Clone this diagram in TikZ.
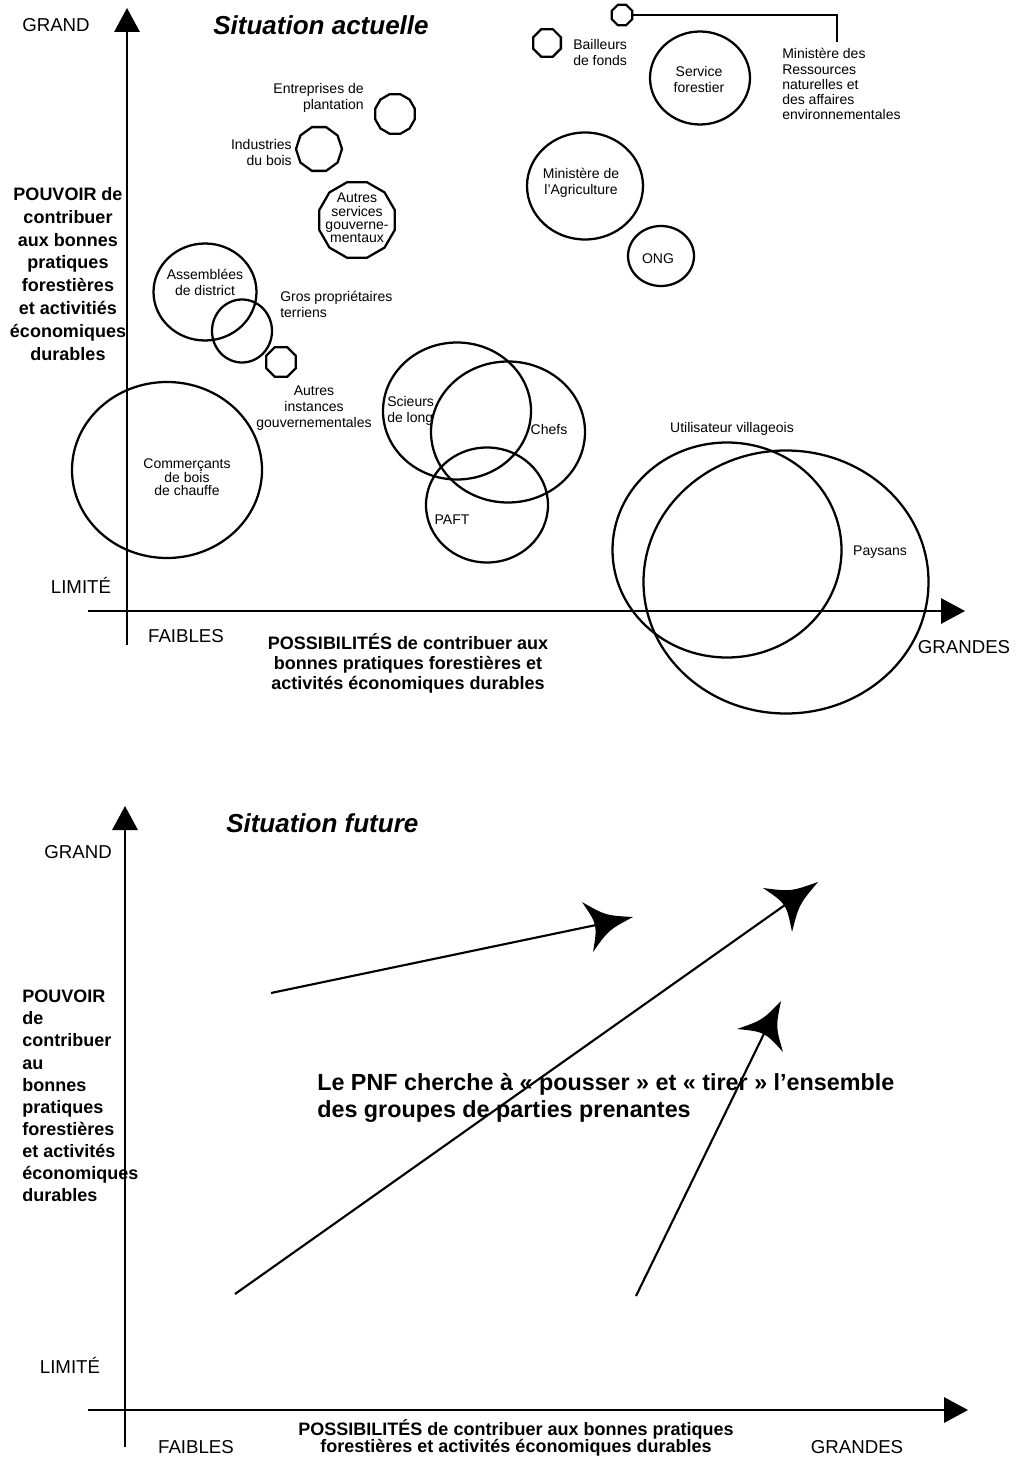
\documentclass[tikz,border=0pt]{standalone}
\usepackage{fontspec}
\setmainfont{Liberation Sans}
\usetikzlibrary{arrows.meta,shapes.geometric,calc}

% filled arrow head with slightly concave sides: tip, back corner, back corner
\newcommand\spikehead[3]{%
  \fill (#1) .. controls ($(#1)!0.5!(#2)!0.14!(#3)$) .. (#2)
             .. controls ($(#2)!0.5!(#3)!0.22!(#1)$) .. (#3)
             .. controls ($(#3)!0.5!(#1)!0.14!(#2)$) .. (#1) -- cycle;}

\begin{document}
\begin{tikzpicture}[x=0.75pt, y=-0.75pt,
  axis/.style={line width=1.6pt},
  axtip/.style={-{Triangle[length=18pt,width=19pt]}},
  ring/.style 2 args={ellipse, draw, line width=1.7pt,
    minimum width=#1*0.75pt, minimum height=#2*0.75pt, inner sep=0pt, outer sep=0pt},
  gon/.style 2 args={regular polygon, regular polygon sides=#1, draw, line width=1.7pt,
    minimum size=#2*0.75pt, inner sep=0pt, outer sep=0pt},
  lab/.style={font=\fontsize{10.5}{12}\selectfont, inner sep=0pt},
  axlab/.style={font=\fontsize{14}{17}\selectfont, inner sep=0pt},
  boldlab/.style={inner sep=0pt},
  ttl/.style={font=\fontsize{19.5}{24}\selectfont\bfseries\itshape, inner sep=0pt},
  push/.style={line width=1.6pt},
]
\useasboundingbox (0,0) rectangle (1022,1458);

% ---------------- Situation actuelle ----------------
\node[ttl] (title1) at (321,25) {Situation actuelle};
\node[axlab] (grand1) at (56,25) {GRAND};
\node[boldlab, align=center, font=\fontsize{13.5}{17.2}\selectfont\bfseries] (pouvoir1) at (68,274)
  {POUVOIR de\\contribuer\\aux bonnes\\pratiques\\forestières\\et activitiés\\économiques\\durables};
\node[axlab] (limite1) at (81,585) {LIMITÉ};
\node[axlab] (faibles1) at (186,636) {FAIBLES};
\node[boldlab, align=center, font=\fontsize{13.5}{15}\selectfont\bfseries] (poss1) at (408,663)
  {POSSIBILITÉS de contribuer aux\\bonnes pratiques forestières et\\activités économiques durables};
\node[axlab] (grandes1) at (964,647) {GRANDES};

% stakeholder groups
\node[gon={8}{22}] (minres-c) at (622,15) {};
\node[lab, anchor=west, align=left, font=\fontsize{10.5}{11.3}\selectfont] (minres) at (782,84)
  {Ministère des\\Ressources\\naturelles et\\des affaires\\environnementales};
\coordinate (minres-in) at (837,42);
\draw[line width=1.7pt] (minres-c.east) -| (minres-in);

\node[gon={8}{30}] (bailleurs-c) at (547,43) {};
\node[lab, anchor=west, align=left] (bailleurs) at (573,53) {Bailleurs\\de fonds};

\node[ring={100}{93}] (sf-c) at (700,78) {};
\node[lab, align=center] (sf) at (699,80) {Service\\forestier};

\node[ring={116}{107}] (minagri-c) at (585,186) {};
\node[lab, align=center] (minagri) at (581,183) {Ministère de\\l’Agriculture};

\node[ring={66}{60}] (ong-c) at (661,256) {};
\node[lab] (ong) at (658,259) {ONG};

\node[gon={12}{41}] (plant-c) at (395,114) {};
\node[lab, anchor=east, align=right] (plant) at (364,98) {Entreprises de\\plantation};

\node[gon={10}{46}] (indus-c) at (319,149) {};
\node[lab, anchor=east, align=right] (indus) at (292,153) {Industries\\du bois};

\node[gon={12}{78}] (asg-c) at (357,220) {};
\node[lab, align=center, font=\fontsize{10.5}{10}\selectfont] (asg) at (357,218)
  {Autres\\services\\gouverne-\\mentaux};

\node[ring={103}{97}] (assemb-c) at (205,292) {};
\node[lab, align=center] (assemb) at (205,282) {Assemblées\\de district};

\node[ring={60}{63}] (gros-c) at (242,331) {};
\node[lab, anchor=west, align=left] (gros) at (280,304) {Gros propriétaires\\terriens};

\node[gon={8}{32}] (aig-c) at (281,362) {};
\node[lab, align=center] (aig) at (314,408) {Autres\\instances\\gouvernementales};

\node[ring={190}{176}] (comm-c) at (167,470) {};
\node[lab, align=center, font=\fontsize{10.5}{9.4}\selectfont] (comm) at (187,477)
  {Commerçants\\de bois\\de chauffe};

\node[ring={148}{137}] (scieurs-c) at (457,411) {};
\node[lab, anchor=west, align=left] (scieurs) at (387,411) {Scieurs\\de long};

\node[ring={154}{141}] (chefs-c) at (508,432) {};
\node[lab] (chefs) at (549,429) {Chefs};

\node[ring={122}{115}] (paft-c) at (487,505) {};
\node[lab] (paft) at (452,520) {PAFT};

\node[ring={229}{215}] (util-c) at (727,550) {};
\node[lab] (util) at (732,429) {Utilisateur villageois};

\node[ring={285}{263}] (pays-c) at (786,582) {};
\node[lab] (pays) at (880,552) {Paysans};

% axes
\coordinate (y1b) at (127,645);
\coordinate (y1t) at (127,8);
\coordinate (x1l) at (88,611);
\coordinate (x1r) at (965,611);
\draw[axis, axtip] (y1b) -- (y1t);
\draw[axis, axtip] (x1l) -- (x1r);

% ---------------- Situation future ----------------
\node[ttl, anchor=west] (title2) at (226,823) {Situation future};
\node[axlab, anchor=east] (grand2) at (112,852) {GRAND};
\node[boldlab, anchor=west, align=left, font=\fontsize{13.5}{16.6}\selectfont\bfseries] (pouvoir2) at (22,1096)
  {POUVOIR\\de\\contribuer\\au\\bonnes\\pratiques\\forestières\\et activités\\économiques\\durables};
\node[boldlab, anchor=west, align=left, font=\fontsize{17.5}{20}\selectfont\bfseries] (pnf) at (317,1098)
  {Le PNF cherche à « pousser » et « tirer » l’ensemble\\des groupes de parties prenantes};
\node[axlab] (limite2) at (70,1365) {LIMITÉ};
\node[axlab] (faibles2) at (196,1447) {FAIBLES};
\node[boldlab, align=center, font=\fontsize{13.5}{12.8}\selectfont\bfseries] (poss2) at (516,1438)
  {POSSIBILITÉS de contribuer aux bonnes pratiques\\forestières et activités économiques durables};
\node[axlab] (grandes2) at (857,1447) {GRANDES};

% axes
\coordinate (y2b) at (125,1447);
\coordinate (y2lo) at (125,1213);
\coordinate (y2hi) at (125,982);
\coordinate (y2t) at (125,806);
\coordinate (x2l) at (88,1410);
\coordinate (x2r) at (968,1410);
\draw[axis] (y2b) -- (y2lo);
\draw[line width=0.8pt] (y2lo) -- (y2hi);
\draw[axis, axtip] (y2hi) -- (y2t);
\draw[axis, axtip] (x2l) -- (x2r);

% push / pull arrows
\coordinate (a1s) at (271,993);
\coordinate (a1t) at (633,917);
\coordinate (a1l) at (582,902);
\coordinate (a1r) at (593,952);
\draw[push] (a1s) -- ($(a1l)!0.5!(a1r)!0.4!(a1t)$);
\spikehead{a1t}{a1l}{a1r}

\coordinate (a2s) at (235,1294);
\coordinate (a2t) at (818,882);
\coordinate (a2l) at (763,888);
\coordinate (a2r) at (792,932);
\draw[push] (a2s) -- ($(a2l)!0.5!(a2r)!0.4!(a2t)$);
\spikehead{a2t}{a2l}{a2r}

\coordinate (a3s) at (636,1296);
\coordinate (a3t) at (781,1001);
\coordinate (a3l) at (737,1029);
\coordinate (a3r) at (783,1052);
\draw[push] (a3s) -- ($(a3l)!0.5!(a3r)!0.4!(a3t)$);
\spikehead{a3t}{a3l}{a3r}
\end{tikzpicture}
\end{document}
